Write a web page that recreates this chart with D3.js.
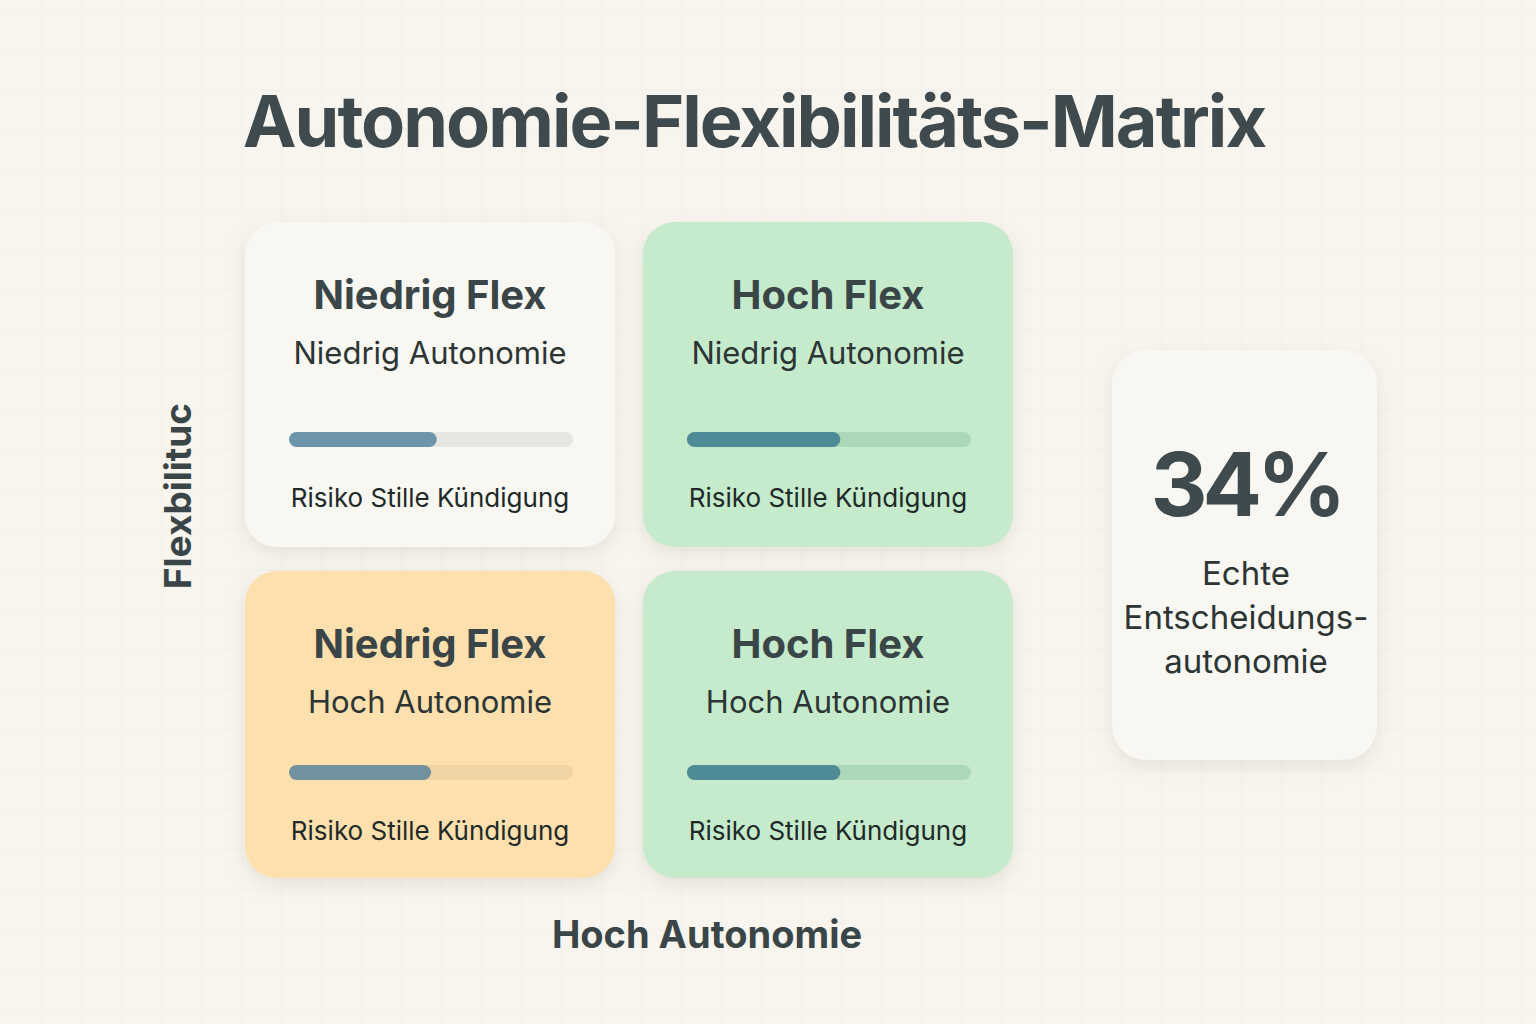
<!DOCTYPE html>
<html>
<head>
<meta charset="utf-8">
<script src="https://cdn.jsdelivr.net/npm/d3@7"></script>
<style>
  html, body { margin: 0; padding: 0; background: #f7f5ee; }
  svg { display: block; font-family: Inter, "Noto Sans", sans-serif; }
</style>
</head>
<body>
<svg id="chart" width="1536" height="1024"></svg>
<script>
// Kacheln der Matrix (Zeile, Spalte), Titel, Untertitel und Risiko-Anteil
const cellRow = [0, 0, 1, 1];
const cellCol = [0, 1, 0, 1];
const cellTitles = ["Niedrig Flex", "Hoch Flex", "Niedrig Flex", "Hoch Flex"];
const cellSubtitles = ["Niedrig Autonomie", "Niedrig Autonomie", "Hoch Autonomie", "Hoch Autonomie"];
const riskValues = [0.52, 0.54, 0.50, 0.54];
const riskLabel = "Risiko Stille Kündigung";
const cellThemes = ["neutral", "green", "orange", "green"];

const titleText = "Autonomie-Flexibilitäts-Matrix";
const xAxisLabel = "Hoch Autonomie";
const yAxisLabel = "Flexbilituc";
const kpiValue = "34%";
const kpiLines = ["Echte", "Entscheidungs-", "autonomie"];

// Farben je Thema
const themeFill = { neutral: "#f8f7f2", green: "#c5eacc", orange: "#fde0ad" };
const themeBar = { neutral: "#6c95ac", green: "#4f8b97", orange: "#72919e" };
const themeTrack = { neutral: "#e7e6e1", green: "#abd8b8", orange: "#f1d4a6" };

const svg = d3.select("#chart");
const W = 1536, H = 1024;

// Schatten
const defs = svg.append("defs");
const shadow = defs.append("filter").attr("id", "shadow")
    .attr("x", "-20%").attr("y", "-20%").attr("width", "140%").attr("height", "150%");
shadow.append("feDropShadow")
    .attr("dx", 0).attr("dy", 6).attr("stdDeviation", 9)
    .attr("flood-color", "#8a8470").attr("flood-opacity", 0.18);

// Hintergrund mit feinem Raster
svg.append("rect").attr("width", W).attr("height", H).attr("fill", "#f7f5ee");
const grid = svg.append("g").attr("stroke", "#f1efe7").attr("stroke-width", 1);
grid.selectAll("line.v").data(d3.range(42, W, 40)).enter().append("line")
    .attr("x1", d => d).attr("x2", d => d).attr("y1", 0).attr("y2", H);
grid.selectAll("line.h").data(d3.range(10, H, 40)).enter().append("line")
    .attr("x1", 0).attr("x2", W).attr("y1", d => d).attr("y2", d => d);

// Titel
svg.append("text")
    .attr("x", 754).attr("y", 147)
    .attr("text-anchor", "middle")
    .attr("font-size", 72).attr("font-weight", 700)
    .attr("letter-spacing", -2)
    .attr("fill", "#3e4a4d")
    .text(titleText);

// Raster der Kacheln: obere Reihe etwas höher als untere
const xBand = d3.scaleBand().domain([0, 1]).range([245, 1013]).paddingInner(0.07);
const rowTop = d3.scaleOrdinal().domain([0, 1]).range([222, 571]);
const rowHeight = d3.scaleOrdinal().domain([0, 1]).range([325, 307]);

const cells = svg.selectAll("g.cell")
    .data(cellTitles.map((t, i) => ({ t, i })))
    .enter().append("g")
    .attr("class", "cell")
    .attr("transform", d => `translate(${xBand(cellCol[d.i])},${rowTop(cellRow[d.i])})`);

cells.append("rect")
    .attr("width", xBand.bandwidth()).attr("height", d => rowHeight(cellRow[d.i]))
    .attr("rx", 32).attr("ry", 32)
    .attr("fill", d => themeFill[cellThemes[d.i]])
    .attr("filter", "url(#shadow)");

const cx = xBand.bandwidth() / 2;

cells.append("text")
    .attr("x", cx).attr("y", 87)
    .attr("text-anchor", "middle")
    .attr("font-size", 40).attr("font-weight", 700)
    .attr("fill", "#3a4547")
    .text(d => d.t);

cells.append("text")
    .attr("x", cx).attr("y", 142)
    .attr("text-anchor", "middle")
    .attr("font-size", 31)
    .attr("fill", "#2c3534")
    .text(d => cellSubtitles[d.i]);

// Risiko-Balken
const barX = d3.scaleLinear().domain([0, 1]).range([44, xBand.bandwidth() - 42]);
const barY = d => (cellRow[d.i] === 0 ? 210 : 194);

cells.append("rect")
    .attr("x", barX(0)).attr("y", barY)
    .attr("width", barX(1) - barX(0)).attr("height", 15)
    .attr("rx", 7.5)
    .attr("fill", d => themeTrack[cellThemes[d.i]]);

cells.append("rect")
    .attr("x", barX(0)).attr("y", barY)
    .attr("width", d => barX(riskValues[d.i]) - barX(0)).attr("height", 15)
    .attr("rx", 7.5)
    .attr("fill", d => themeBar[cellThemes[d.i]]);

cells.append("text")
    .attr("x", cx).attr("y", d => barY(d) + 75)
    .attr("text-anchor", "middle")
    .attr("font-size", 26)
    .attr("fill", "#1f2a28")
    .text(riskLabel);

// Achsenbeschriftungen
svg.append("text")
    .attr("transform", "translate(191,496) rotate(-90)")
    .attr("text-anchor", "middle")
    .attr("font-size", 37).attr("font-weight", 700)
    .attr("fill", "#3a4547")
    .text(yAxisLabel);

svg.append("text")
    .attr("x", 707).attr("y", 948)
    .attr("text-anchor", "middle")
    .attr("font-size", 38).attr("font-weight", 700)
    .attr("fill", "#3a4547")
    .text(xAxisLabel);

// Kennzahl rechts
const kpi = svg.append("g").attr("transform", "translate(1112,350)");
kpi.append("rect")
    .attr("width", 265).attr("height", 410)
    .attr("rx", 34).attr("ry", 34)
    .attr("fill", "#f8f7f2")
    .attr("filter", "url(#shadow)");

kpi.append("text")
    .attr("x", 134).attr("y", 166)
    .attr("text-anchor", "middle")
    .attr("font-size", 88).attr("font-weight", 700)
    .attr("letter-spacing", -5)
    .attr("fill", "#3e4a4d")
    .text(kpiValue);

kpi.selectAll("text.line")
    .data(kpiLines).enter().append("text")
    .attr("class", "line")
    .attr("x", 134).attr("y", (d, i) => 235 + i * 44)
    .attr("text-anchor", "middle")
    .attr("font-size", 33)
    .attr("fill", "#2c3534")
    .text(d => d);
</script>
</body>
</html>
